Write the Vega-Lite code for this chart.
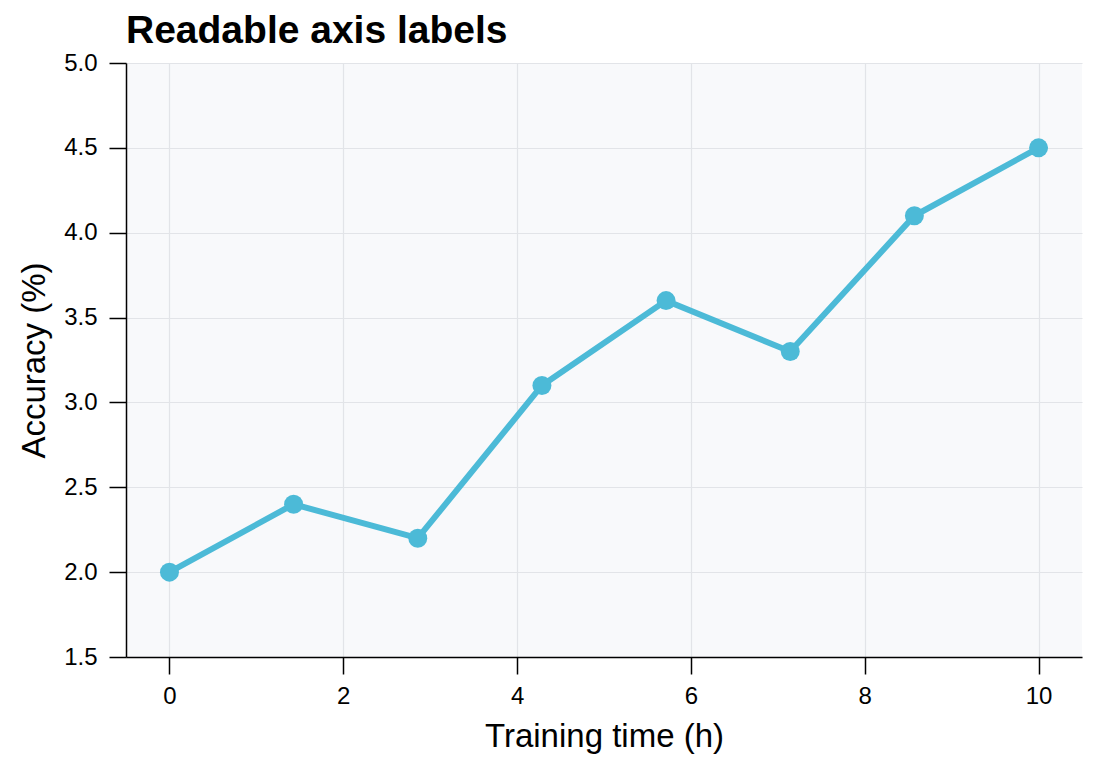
{
  "$schema": "https://vega.github.io/schema/vega-lite/v6.json",
  "autosize": {"type": "none"},
  "width": 956,
  "height": 594,
  "padding": {"left": 126, "top": 63, "right": 16, "bottom": 114},
  "background": "white",
  "title": {
    "text": "Readable axis labels",
    "anchor": "start",
    "frame": "group",
    "font": "Liberation Sans",
    "fontSize": 39,
    "fontWeight": "bold",
    "color": "black",
    "offset": 0
  },
  "data": {
    "values": [
      {"t": 0, "acc": 2.0},
      {"t": 1.4286, "acc": 2.4},
      {"t": 2.8571, "acc": 2.2},
      {"t": 4.2857, "acc": 3.1},
      {"t": 5.7143, "acc": 3.6},
      {"t": 7.1429, "acc": 3.3},
      {"t": 8.5714, "acc": 4.1},
      {"t": 10, "acc": 4.5}
    ]
  },
  "config": {
    "view": {"fill": "#f8f9fb", "stroke": null},
    "axis": {
      "labelFont": "Liberation Sans",
      "titleFont": "Liberation Sans",
      "labelFontSize": 24,
      "titleFontSize": 33,
      "titleFontWeight": "normal",
      "labelColor": "black",
      "titleColor": "black",
      "domainColor": "black",
      "domainWidth": 1.5,
      "tickColor": "black",
      "tickWidth": 1.5,
      "tickSize": 17,
      "gridColor": "#e2e4e8",
      "gridWidth": 1.2
    }
  },
  "layer": [
    {
      "mark": {"type": "line", "color": "#4cbad7", "strokeWidth": 6},
      "encoding": {
        "x": {"field": "t", "type": "quantitative"},
        "y": {"field": "acc", "type": "quantitative"}
      }
    },
    {
      "mark": {"type": "point", "filled": true, "opacity": 1, "color": "#4cbad7", "size": 360},
      "encoding": {
        "x": {
          "field": "t",
          "type": "quantitative",
          "scale": {"domain": [-0.5, 10.5], "nice": false, "zero": false},
          "axis": {"values": [0, 2, 4, 6, 8, 10], "title": "Training time (h)", "format": "d", "labelPadding": 10, "titlePadding": 12}
        },
        "y": {
          "field": "acc",
          "type": "quantitative",
          "scale": {"domain": [1.5, 5.0], "nice": false, "zero": false},
          "axis": {"values": [1.5, 2.0, 2.5, 3.0, 3.5, 4.0, 4.5, 5.0], "format": ".1f", "title": "Accuracy (%)", "labelPadding": 12, "titlePadding": 12}
        }
      }
    }
  ]
}
